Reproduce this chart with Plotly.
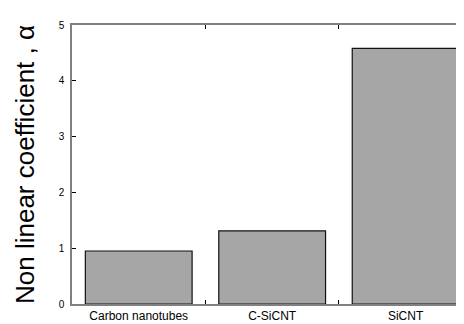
import plotly.graph_objects as go

categories = ["Carbon nanotubes", "C-SiCNT", "SiCNT"]
alpha_values = [0.95, 1.31, 4.58]
y_ticks = [0, 1, 2, 3, 4, 5]

fig = go.Figure()
fig.add_trace(go.Bar(
    x=categories, y=alpha_values, width=0.8,
    marker=dict(color="#a6a6a6", line=dict(color="#111111", width=1.2)),
))

fig.update_layout(
    width=456, height=316,
    margin=dict(l=64, r=1, t=17, b=20),
    paper_bgcolor="white", plot_bgcolor="white",
    showlegend=False,
    font=dict(family="Liberation Sans, Arial, sans-serif", color="#000000"),
)
fig.update_xaxes(
    type="category", range=[-0.5, 2.43], automargin=False,
    showline=True, linecolor="#808080", linewidth=1.5,
    mirror="ticks", ticks="inside", ticklen=4, tickcolor="#000000",
    tickson="boundaries", showgrid=False,
    tickfont=dict(size=12),
)
fig.update_yaxes(
    range=[0, 5], tickvals=y_ticks, automargin=False,
    showline=True, linecolor="#808080", linewidth=1.5,
    ticks="inside", ticklen=4, tickcolor="#000000",
    showgrid=False, zeroline=False,
    tickfont=dict(size=10), ticklabelstandoff=4,
    title=dict(text="Non linear coefficient , α", font=dict(size=26), standoff=17),
)

fig.write_html("out.html")
